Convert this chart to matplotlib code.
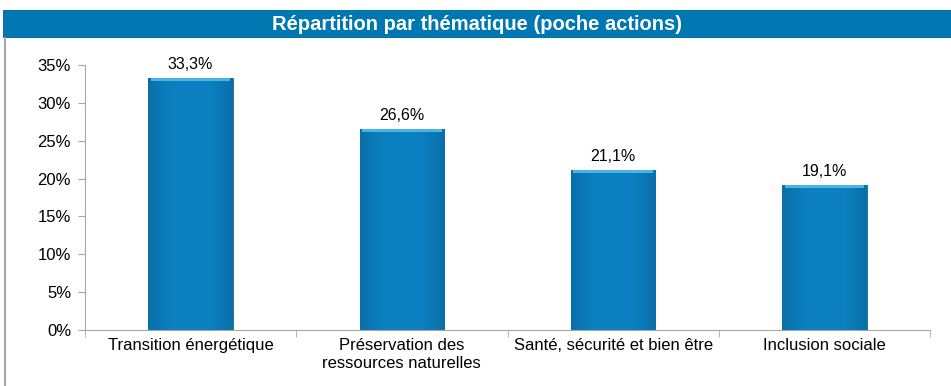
import matplotlib.pyplot as plt
import numpy as np
from matplotlib.colors import LinearSegmentedColormap

plt.rcParams['font.family'] = ['Liberation Sans', 'DejaVu Sans']

themes = ["Transition énergétique", "Préservation des\nressources naturelles",
          "Santé, sécurité et bien être", "Inclusion sociale"]
shares = [33.3, 26.6, 21.1, 19.1]
labels = ["33,3%", "26,6%", "21,1%", "19,1%"]
yticks = [0, 5, 10, 15, 20, 25, 30, 35]

W, H = 951, 386
fig = plt.figure(figsize=(W / 100, H / 100), dpi=100)

# title banner
banner = fig.add_axes([3 / W, 1 - 38 / H, 1 - 3 / W, 28 / H])
banner.set_facecolor('#0077b0')
banner.set_xticks([])
banner.set_yticks([])
for s in banner.spines.values():
    s.set_visible(False)
banner.text(0.5, 0.5, "Répartition par thématique (poche actions)", color='white',
            fontsize=14.5, fontweight='bold', ha='center', va='center',
            transform=banner.transAxes)

# thin grey border on the left of the panel
fig.add_artist(plt.Line2D([5 / W, 5 / W], [0, 1 - 38 / H], transform=fig.transFigure,
                          color='#a6a6a6', lw=1.5))

ax = fig.add_axes([85 / W, 1 - 330 / H, (930 - 85) / W, (330 - 65) / H])
x = np.arange(len(themes))
bars = ax.bar(x, shares, width=0.4, color='#0b7dba', edgecolor='#0a6ea6', lw=0.6, zorder=2)

# soft horizontal shading inside each bar
shade = LinearSegmentedColormap.from_list(
    'shade', ['#0a6fa8', '#0b7fbf', '#0c81c2', '#0b7fbf', '#0a6fa8'])
grad = np.linspace(0, 1, 256).reshape(1, -1)
for b in bars:
    x0, w, h = b.get_x(), b.get_width(), b.get_height()
    im = ax.imshow(grad, extent=[x0, x0 + w, 0, h], cmap=shade, aspect='auto', zorder=2.1)
    im.set_clip_path(b)
    # light cap on top
    ax.fill_between([x0 + 0.012, x0 + w - 0.012], h - 0.4, h, color='#4ab4e6', zorder=2.2, lw=0)

for xi, v, lab in zip(x, shares, labels):
    ax.text(xi, v + 0.8, lab, ha='center', va='bottom', fontsize=11.5)

ax.set_xlim(-0.5, len(themes) - 0.5)
ax.set_ylim(0, 35)
ax.set_yticks(yticks)
ax.set_yticklabels([f"{t}%" for t in yticks], fontsize=12)
ax.set_xticks(x)
ax.set_xticklabels(themes, fontsize=12)
ax.tick_params(axis='x', length=0, pad=6)
ax.tick_params(axis='y', length=5, color='#a6a6a6', pad=5)
ax.set_xticks(np.arange(-0.5, len(themes)), minor=True)
ax.tick_params(axis='x', which='minor', length=5, color='#a6a6a6', direction='out')
ax.spines['top'].set_visible(False)
ax.spines['right'].set_visible(False)
for s in ['left', 'bottom']:
    ax.spines[s].set_color('#a6a6a6')
ax.set_facecolor('none')

fig.savefig('out.png', dpi=100)
